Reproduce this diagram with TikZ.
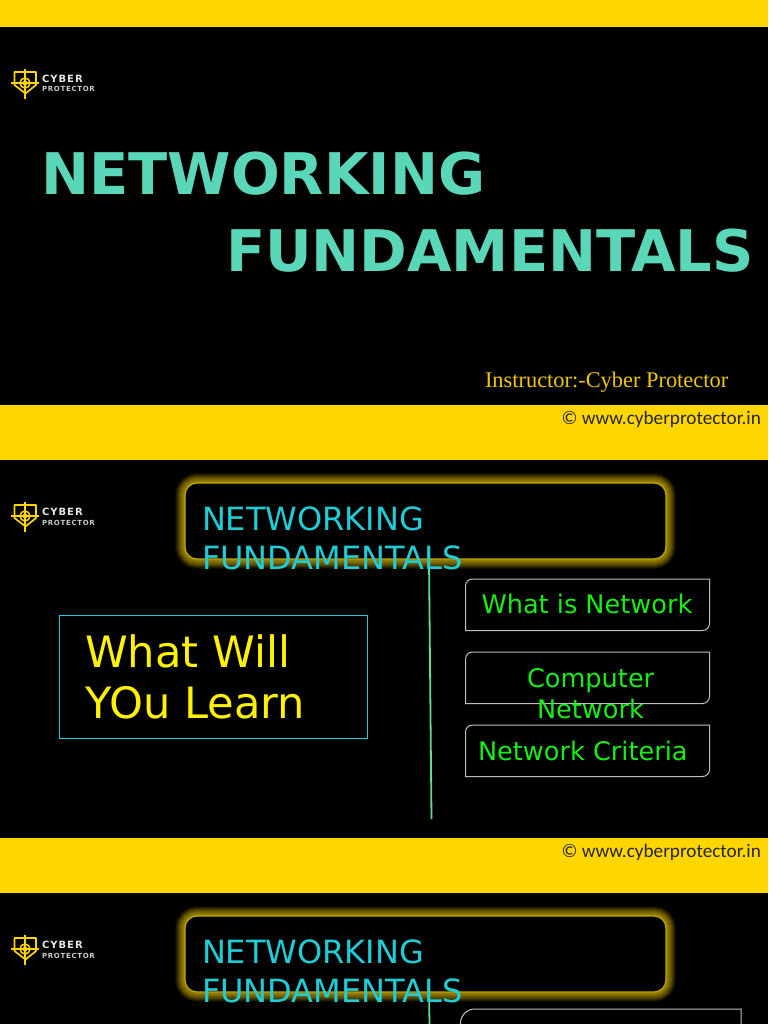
\documentclass[tikz,border=0pt]{standalone}
\usepackage{xcolor}
\usepackage{fontspec}
\usepackage{tikz}
\usetikzlibrary{positioning}
\setmainfont{DejaVu Sans}
\newfontfamily\serifname{Liberation Serif}
\newfontfamily\webname{Carlito}
\newfontfamily\logoname[LetterSpace=10]{DejaVu Sans Bold}
\definecolor{bandyellow}{HTML}{FFD600}
\definecolor{titlegreen}{HTML}{5AD7B9}
\definecolor{topiccyan}{HTML}{1FCDD6}
\definecolor{glowline}{HTML}{BFAC00}
\definecolor{itemgreen}{HTML}{16EE16}
\definecolor{rulegreen}{HTML}{60DC98}
\definecolor{instructorgold}{HTML}{EFC800}
\tikzset{
    x=1pt, y=-1pt,
    txt/.style={inner sep=0, outer sep=0, anchor=base west},
    title/.style={txt, text=titlegreen, font=\fontsize{57.4}{60}\selectfont\bfseries},
    topic/.style={txt, text=topiccyan, font=\fontsize{32}{39}\selectfont},
    item/.style={txt, text=itemgreen, font=\fontsize{25.6}{31}\selectfont},
    learn/.style={txt, text=yellow, font=\fontsize{43.2}{51}\selectfont},
    website/.style={txt, text=black!85, font=\fontsize{19.2}{22}\selectfont\webname},
    itembox/.style={draw=white!75!black, line width=1pt},
    vline/.style={draw=rulegreen, line width=1.8pt},
    logo/.pic={
        \draw[bandyellow, line width=1.7pt, line join=round] (-10.5,-11) -- (11,-11) -- (11,2) -- (0.5,10.5) -- (-10.5,2) -- cycle;
        \draw[bandyellow, line width=1.5pt] (-14,0) -- (14,0);
        \draw[bandyellow, line width=1.5pt] (0,-14) -- (0,16);
        \draw[bandyellow, line width=1.5pt] (0,0) circle (5);
        \fill[bandyellow] (0,0) circle (2.4);
        \node[txt, text=white!90!black, font=\fontsize{10}{10}\selectfont\logoname] at (17,-0.5) {CYBER};
        \node[txt, text=white!80!black, font=\fontsize{7}{7}\selectfont\logoname] at (17,9) {PROTECTOR};
    }
}
\begin{document}
\begin{tikzpicture}
    \useasboundingbox (0,0) rectangle (768,1024);
    \clip (0,0) rectangle (768,1024);
    % Slides and bands
    \fill[black] (0,0) rectangle (768,1024);
    \fill[bandyellow] (0,0) rectangle (768,27);
    \fill[bandyellow] (0,405) rectangle (768,460);
    \fill[bandyellow] (0,838) rectangle (768,893);
    % Logos
    \pic at (25,83) {logo};
    \pic at (25,516) {logo};
    \pic at (25,949) {logo};
    % Title slide
    \node[title] (titleA) at (41.5,195) {NETWORKING};
    \node[title] (titleB) at (226,271) {FUNDAMENTALS};
    \node[txt, text=instructorgold, font=\fontsize{22.4}{26}\selectfont\serifname] (instructor) at (485,387.5) {Instructor:-Cyber Protector};
    \node[website] (webA) at (561.5,424.5) {© www.cyberprotector.in};
    \node[website] (webB) at (561.5,857.5) {© www.cyberprotector.in};
    % Glow round the topic boxes
    \foreach \w/\o in {20/0.05, 18/0.08, 16/0.1, 14/0.1, 12/0.1, 10/0.1, 8/0.1, 6/0.1, 4/0.1}{
        \draw[bandyellow, opacity=\o, line width=\w pt, rounded corners=12] (185,483) rectangle (666,559);
        \draw[bandyellow, opacity=\o, line width=\w pt, rounded corners=12] (185,916) rectangle (666,992);
    }
    \draw[glowline, fill=black, line width=1.2pt, rounded corners=12] (185,483) rectangle (666,559);
    \draw[glowline, fill=black, line width=1.2pt, rounded corners=12] (185,916) rectangle (666,992);
    % Vertical rules
    \coordinate (ruleAtop) at (429,560);
    \coordinate (ruleAend) at (431.5,819);
    \coordinate (ruleBtop) at (429,993);
    \coordinate (ruleBend) at (429.5,1024);
    \draw[vline] (ruleAtop) -- (ruleAend);
    \draw[vline] (ruleBtop) -- (ruleBend);
    % Topic titles
    \node[topic] (topicA1) at (202,530) {NETWORKING};
    \node[topic] (topicA2) at (202,569) {FUNDAMENTALS};
    \node[topic] (topicB1) at (202,963) {NETWORKING};
    \node[topic] (topicB2) at (202,1002) {FUNDAMENTALS};
    % What will you learn
    \draw[topiccyan, line width=0.7pt] (59,615.5) rectangle (367.5,738);
    \node[learn] (learnA) at (85,667) {What Will};
    \node[learn] (learnB) at (85,718) {YOu Learn};
    % Item boxes
    \draw[itembox] (465.5,630.5) -- (465.5,586) arc (180:270:7) -- (709.5,579) -- (709.5,623.5) arc (0:90:7) -- cycle;
    \draw[itembox] (465.5,703.5) -- (465.5,659) arc (180:270:7) -- (709.5,652) -- (709.5,696.5) arc (0:90:7) -- cycle;
    \draw[itembox] (465.5,776.5) -- (465.5,732) arc (180:270:7) -- (709.5,725) -- (709.5,769.5) arc (0:90:7) -- cycle;
    \draw[itembox] (460.5,1030) -- (460.5,1023) arc (180:270:14) -- (741,1009) -- (741,1030);
    \node[item] (itemA) at (481.5,613) {What is Network};
    \node[item] (itemB1) at (527,687) {Computer};
    \node[item] (itemB2) at (537,718) {Network};
    \node[item] (itemC) at (478,760) {Network Criteria};
\end{tikzpicture}
\end{document}
